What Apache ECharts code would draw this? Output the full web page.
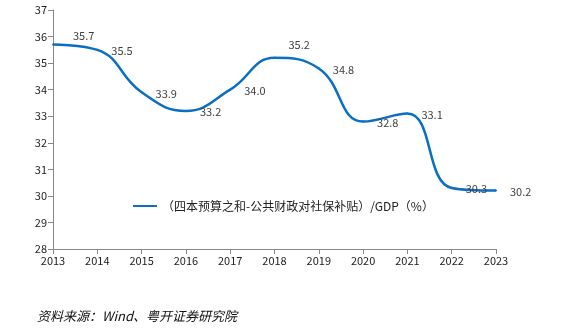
<!DOCTYPE html>
<html><head><meta charset="utf-8">
<script src="https://cdn.jsdelivr.net/npm/echarts@6/dist/echarts.min.js"></script>
<style>html,body{margin:0;padding:0;background:#fff}#c{width:561px;height:329px}</style>
</head><body><div id="c"></div>
<script>
var years = ['2013','2014','2015','2016','2017','2018','2019','2020','2021','2022','2023'];
var ratio = [35.7, 35.5, 33.9, 33.2, 34.0, 35.2, 34.8, 32.8, 33.1, 30.3, 30.2];
var seriesName = '（四本预算之和-公共财政对社保补贴）/GDP（%）';
var sourceText = '资料来源：Wind、粤开证券研究院';

var labelOffsets = {0: [6, -9], 5: [0, -13]};
var data = ratio.map(function (v, i) {
  var o = labelOffsets[i] || [0, 1];
  return { value: v, label: { offset: o } };
});
var font = '"Noto Sans CJK SC", "Noto Sans", sans-serif';
var chart = echarts.init(document.getElementById('c'));
chart.setOption({
  animation: false,
  grid: { left: 53, right: 65, top: 10, bottom: 80, containLabel: false },
  legend: {
    left: 128, top: 195, itemWidth: 24, itemHeight: 10, itemGap: 10,
    icon: 'path://M0,4L24,4L24,6L0,6Z',
    itemStyle: { color: '#0A6FC2' },
    textStyle: { fontSize: 12, color: '#222', fontFamily: font },
    data: [seriesName]
  },
  graphic: [{
    type: 'text', left: 37, top: 310,
    style: { text: sourceText, fontSize: 13, fontStyle: 'italic', fill: '#111', fontFamily: font }
  }],
  xAxis: {
    type: 'category', data: years, boundaryGap: false,
    axisLine: { lineStyle: { color: '#888' } },
    axisTick: { show: true, length: 5, lineStyle: { color: '#888' } },
    axisLabel: { fontSize: 11, color: '#222', fontFamily: font, margin: 6 }
  },
  yAxis: {
    type: 'value', min: 28, max: 37, interval: 1,
    axisLine: { show: true, lineStyle: { color: '#888' } },
    axisTick: { show: true, length: 5, lineStyle: { color: '#888' } },
    splitLine: { show: false },
    axisLabel: { fontSize: 11, color: '#222', fontFamily: font, margin: 6 }
  },
  series: [{
    name: seriesName, type: 'line', data: data, smooth: 0.45,
    symbol: 'circle', symbolSize: 2, showSymbol: true,
    lineStyle: { color: '#0A6FC2', width: 2.5 },
    itemStyle: { color: '#0A6FC2' },
    label: { show: true, position: 'right', distance: 13, fontSize: 11, color: '#404040', fontFamily: font,
      formatter: function (p) { return p.value.toFixed(1); } }
  }]
});
</script></body></html>
